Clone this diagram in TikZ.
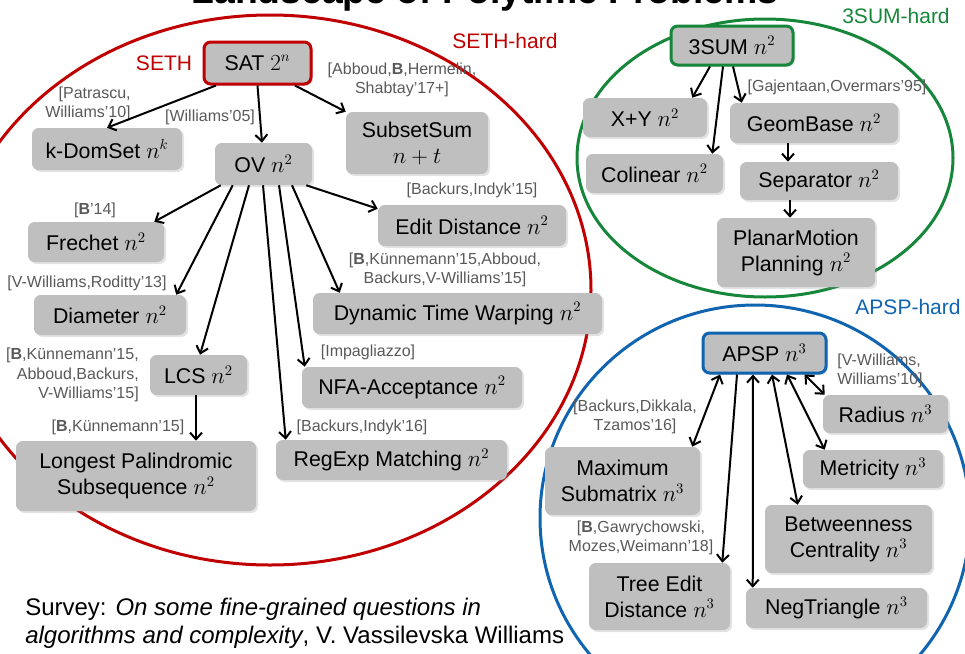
\documentclass[tikz,border=0pt]{standalone}
\usepackage{fontspec}
\setmainfont{Liberation Sans}
\usetikzlibrary{arrows.meta,shadows,calc}
\definecolor{sethred}{RGB}{192,0,0}
\definecolor{sumgreen}{RGB}{22,135,58}
\definecolor{apspblue}{RGB}{16,100,176}
\definecolor{boxgray}{RGB}{191,191,191}
\definecolor{labgray}{RGB}{89,89,89}
\begin{document}
\begin{tikzpicture}[x=0.75pt,y=-0.75pt,
  prob/.style={rounded corners=5pt, fill=boxgray, align=center, inner sep=0pt,
    font=\fontsize{16}{19.5}\selectfont,
    drop shadow={shadow xshift=1.5pt,shadow yshift=-1.5pt,opacity=0.22}},
  wh/.style 2 args={minimum width=#1*0.75pt, minimum height=#2*0.75pt},
  cite/.style={font=\fontsize{12}{14.5}\selectfont, text=labgray, align=center, inner sep=0pt},
  region/.style={font=\fontsize{15.75}{18}\selectfont, inner sep=0pt},
  arr/.style={line width=1.5pt, -{Straight Barb[length=5pt,width=9pt]}},
  darr/.style={line width=1.5pt, {Straight Barb[length=5pt,width=9pt]}-{Straight Barb[length=5pt,width=9pt]}},
]
\useasboundingbox (0,0) rectangle (965,654);
\clip (0,0) rectangle (965,654);

% title (cut off at the top)
\node[font=\fontsize{28}{30}\selectfont\bfseries, anchor=base] (title) at (485,3) {Landscape of Polytime Problems};

% regions
\draw[sethred, line width=2.25pt] (270,290) ellipse [x radius=240.75pt, y radius=206.25pt];
\draw[sumgreen, line width=2.25pt] (765,158) ellipse [x radius=141pt, y radius=104.25pt];
\draw[apspblue, line width=2.25pt] (755,518) ellipse [x radius=161.25pt, y radius=159.75pt];

\node[region, text=sethred] (lseth) at (164,63) {SETH};
\node[region, text=sethred] (lsethhard) at (505,41) {SETH-hard};
\node[region, text=sumgreen] (lsumhard) at (896,16) {3SUM-hard};
\node[region, text=apspblue] (lapsphard) at (908,307) {APSP-hard};

% SETH problems
\node[prob, wh={107}{42}, draw=sethred, line width=2.25pt] (sat) at (257.5,63) {SAT $2^n$};
\node[prob, wh={150}{42}] (kdom) at (107,149) {k-DomSet $n^k$};
\node[prob, wh={142}{62}] (subset) at (417,143) {SubsetSum\\$n+t$};
\node[prob, wh={97}{42}] (ov) at (263.5,164) {OV $n^2$};
\node[prob, wh={188}{41}] (edit) at (472,225.5) {Edit Distance $n^2$};
\node[prob, wh={136}{40}] (frechet) at (96,242) {Frechet $n^2$};
\node[prob, wh={152}{40}] (diam) at (110,315) {Diameter $n^2$};
\node[prob, wh={289}{41}] (dtw) at (457.5,313.5) {Dynamic Time Warping $n^2$};
\node[prob, wh={97}{40}] (lcs) at (198.5,375) {LCS $n^2$};
\node[prob, wh={220}{41}] (nfa) at (412,387.5) {NFA-Acceptance $n^2$};
\node[prob, wh={240}{70}] (lps) at (136,476) {Longest Palindromic\\Subsequence $n^2$};
\node[prob, wh={231}{40}] (regexp) at (391.5,460) {RegExp Matching $n^2$};

% 3SUM problems
\node[prob, wh={122}{39}, draw=sumgreen, line width=2.25pt] (tsum) at (732,45.5) {3SUM $n^2$};
\node[prob, wh={124}{39}] (xy) at (645,117.5) {X+Y $n^2$};
\node[prob, wh={168}{40}] (geom) at (814,123) {GeomBase $n^2$};
\node[prob, wh={137}{39}] (colin) at (654.5,173.5) {Colinear $n^2$};
\node[prob, wh={158}{38}] (sep) at (819,181) {Separator $n^2$};
\node[prob, wh={158}{69}] (pm) at (796,252.5) {PlanarMotion\\Planning $n^2$};

% APSP problems
\node[prob, wh={123}{40}, draw=apspblue, line width=2.25pt] (apsp) at (764.5,353) {APSP $n^3$};
\node[prob, wh={125}{38}] (rad) at (885.5,414) {Radius $n^3$};
\node[prob, wh={140}{38}] (metr) at (873,469) {Metricity $n^3$};
\node[prob, wh={155}{68}] (maxsub) at (622.5,481) {Maximum\\Submatrix $n^3$};
\node[prob, wh={167}{68}] (betw) at (848.5,539) {Betweenness\\Centrality $n^3$};
\node[prob, wh={141}{67}] (tree) at (659.5,596.5) {Tree Edit\\Distance $n^3$};
\node[prob, wh={181}{40}] (neg) at (836.5,608) {NegTriangle $n^3$};

% citations
\node[cite, align=right] (cpatr) at (88,104) {[Patrascu,\\Williams’10]};
\node[cite] (cw05) at (210,117) {[Williams’05]};
\node[cite] (cabb) at (402,80) {[Abboud,\textbf{B},Hermelin,\\Shabtay’17+]};
\node[cite] (cbi15) at (472,190) {[Backurs,Indyk’15]};
\node[cite] (cb14) at (95,210) {[\textbf{B}’14]};
\node[cite] (cvwr) at (87,283) {[V-Williams,Roditty’13]};
\node[cite] (cbka) at (445,270) {[\textbf{B},Künnemann’15,Abboud,\\Backurs,V-Williams’15]};
\node[cite] (cimp) at (368,352) {[Impagliazzo]};
\node[cite, align=right, anchor=east] (cbkb) at (139,375) {[\textbf{B},Künnemann’15,\\Abboud,Backurs,\\V-Williams’15]};
\node[cite] (cbkc) at (118,427) {[\textbf{B},Künnemann’15]};
\node[cite] (cbi16) at (362,427) {[Backurs,Indyk’16]};
\node[cite] (cgo) at (837,87) {[Gajentaan,Overmars’95]};
\node[cite, align=left] (cvww) at (880,371) {[V-Williams,\\Williams’10]};
\node[cite] (cbdt) at (635,417) {[Backurs,Dikkala,\\Tzamos’16]};
\node[cite] (cbgmw) at (641,538) {[\textbf{B},Gawrychowski,\\Mozes,Weimann’18]};

% survey
\node[anchor=base west, inner sep=0pt, font=\fontsize{18}{21}\selectfont] (sv1) at (25,615) {Survey: \textit{On some fine-grained questions in}};
\node[anchor=base west, inner sep=0pt, font=\fontsize{18}{21}\selectfont] (sv2) at (25,643) {\textit{algorithms and complexity}, V. Vassilevska Williams};

% SETH arrows
\draw[arr] ($(sat.south)+(-41.5,0)$) -- (kdom.north);
\draw[arr] (sat.south) -- ($(ov.north)+(-1.5,0)$);
\draw[arr] ($(sat.south)+(37.5,0)$) -- (subset.north west);
\draw[arr] ($(ov.south east)+(-6,0)$) -- ($(edit.north west)+(0,4)$);
\draw[arr] ($(ov.south west)+(6,0)$) -- ($(frechet.north east)+(-10,0)$);
\draw[arr] ($(ov.south west)+(18,0)$) -- ($(diam.north east)+(-10,0)$);
\draw[arr] ($(ov.south)+(-14.5,0)$) -- ($(lcs.north)+(1.5,0)$);
\draw[arr] ($(ov.south)+(-0.5,0)$) -- ($(regexp.north west)+(10,0)$);
\draw[arr] ($(ov.south)+(15.5,0)$) -- ($(nfa.north west)+(3,0)$);
\draw[arr] ($(ov.south)+(28.5,0)$) -- ($(dtw.north west)+(27,0)$);
\draw[arr] ($(lcs.south)+(-2.5,0)$) -- ($(lps.north)+(60,0)$);

% 3SUM arrows
\draw[arr] ($(tsum.south)+(-22,0)$) -- ($(xy.north east)+(-15,0)$);
\draw[arr] ($(tsum.south)+(-9,0)$) -- ($(colin.north east)+(-11,0)$);
\draw[arr] ($(tsum.south)+(1,0)$) -- ($(geom.north west)+(12,0)$);
\draw[arr] ($(geom.south)+(-26,0)$) -- ($(sep.north)+(-31,0)$);
\draw[arr] ($(sep.south)+(-29,0)$) -- ($(pm.north)+(-6,0)$);

% APSP arrows
\draw[darr] ($(apsp.south)+(-44.5,0)$) -- ($(maxsub.north east)+(-8,0)$);
\draw[arr] ($(apsp.south)+(-27.5,0)$) -- ($(tree.north east)+(-8,0)$);
\draw[darr] ($(apsp.south)+(-11.5,0)$) -- ($(neg.north west)+(7,0)$);
\draw[darr] ($(apsp.south)+(7.5,0)$) -- ($(betw.north west)+(33,0)$);
\draw[darr] ($(apsp.south)+(22.5,0)$) -- ($(metr.north west)+(22,0)$);
\draw[darr] ($(apsp.south east)+(-23,0)$) -- ($(rad.north west)+(2,0)$);
\end{tikzpicture}
\end{document}
